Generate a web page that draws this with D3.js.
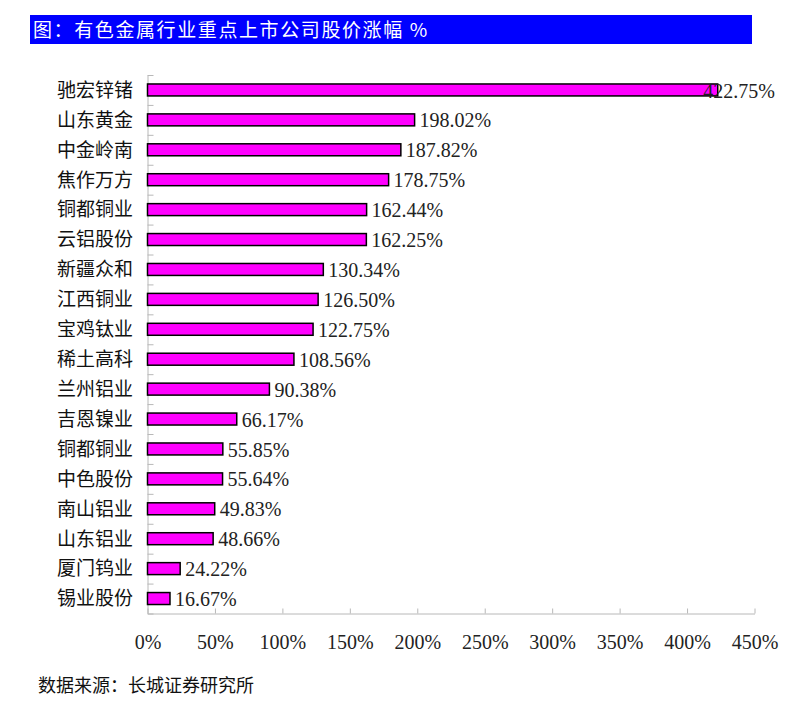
<!DOCTYPE html>
<html>
<head>
<meta charset="utf-8">
<script src="https://cdn.jsdelivr.net/npm/d3@7/dist/d3.min.js"></script>
<style>
	body { margin: 0; background: #fff; }
	svg { display: block; }
	.axis path, .axis line { stroke: #b8b8b8; stroke-width: 1; }
	.axis text { font-family: "Liberation Serif", serif; font-size: 20px; fill: #222; }
</style>
</head>
<body>
<svg id="chart"></svg>
<script>
var categories = ['驰宏锌锗', '山东黄金', '中金岭南', '焦作万方', '铜都铜业', '云铝股份',
	'新疆众和', '江西铜业', '宝鸡钛业', '稀土高科', '兰州铝业', '吉恩镍业',
	'铜都铜业', '中色股份', '南山铝业', '山东铝业', '厦门钨业', '锡业股份'];
var values = [422.75, 198.02, 187.82, 178.75, 162.44, 162.25,
	130.34, 126.50, 122.75, 108.56, 90.38, 66.17,
	55.85, 55.64, 49.83, 48.66, 24.22, 16.67];
var xTicks = [0, 50, 100, 150, 200, 250, 300, 350, 400, 450];
var title = '图：有色金属行业重点上市公司股价涨幅 %';
var source = '数据来源：长城证券研究所';

var width = 804;
var height = 710;
var plotLeft = 147.5;
var plotRight = 754.5;
var plotTop = 75;
var plotBottom = 613.5;
var labelLimit = 775;

var svg = d3.select('#chart')
	.attr('width', width)
	.attr('height', height);

svg.append('rect')
	.attr('width', width)
	.attr('height', height)
	.attr('fill', '#fff');

// title banner
svg.append('rect')
	.attr('x', 30)
	.attr('y', 15)
	.attr('width', 722)
	.attr('height', 29)
	.attr('fill', '#0000ff');
svg.append('text')
	.text(title)
	.attr('x', 33)
	.attr('y', 37)
	.style('font-family', '"Noto Sans CJK SC", sans-serif')
	.style('font-size', '19px')
	.style('letter-spacing', '1.6px')
	.style('fill', '#fff');

var xScale = d3.scaleLinear()
	.domain([0, 450])
	.range([plotLeft, plotRight]);

var yScale = d3.scaleBand()
	.domain(d3.range(categories.length))
	.range([plotTop, plotBottom])
	.paddingInner(0.6)
	.paddingOuter(0.3);

var yEdge = d3.scaleLinear()
	.domain([0, categories.length])
	.range([plotTop, plotBottom]);

var xAxis = d3.axisBottom()
	.scale(xScale)
	.tickValues(xTicks)
	.tickSizeInner(-5)
	.tickSizeOuter(0)
	.tickPadding(21)
	.tickFormat(d => d + '%');

svg.append('g')
	.attr('class', 'axis x-axis')
	.attr('transform', `translate(0, ${plotBottom})`)
	.call(xAxis);

var yAxis = d3.axisLeft()
	.scale(yEdge)
	.tickValues(d3.range(categories.length + 1))
	.tickSizeInner(-6)
	.tickSizeOuter(0)
	.tickFormat('');

svg.append('g')
	.attr('class', 'axis y-axis')
	.attr('transform', `translate(${plotLeft}, 0)`)
	.call(yAxis);

svg.selectAll('.cat')
	.data(categories)
	.enter()
	.append('text')
	.attr('class', 'cat')
	.text(d => d)
	.attr('x', 133)
	.attr('y', (d, i) => yScale(i) + yScale.bandwidth() / 2)
	.attr('dy', '0.36em')
	.style('text-anchor', 'end')
	.style('font-family', '"Noto Sans CJK SC", sans-serif')
	.style('font-size', '19px')
	.style('fill', '#111');

svg.selectAll('.bar')
	.data(values)
	.enter()
	.append('rect')
	.attr('class', 'bar')
	.attr('x', xScale(0))
	.attr('y', (d, i) => yScale(i))
	.attr('width', d => xScale(d) - xScale(0))
	.attr('height', yScale.bandwidth())
	.attr('fill', '#ff00ff')
	.attr('stroke', '#000')
	.attr('stroke-width', 1.5);

var labels = svg.selectAll('.val')
	.data(values)
	.enter()
	.append('text')
	.attr('class', 'val')
	.text(d => d.toFixed(2) + '%')
	.attr('y', (d, i) => yScale(i) + yScale.bandwidth() / 2)
	.attr('dy', '0.38em')
	.style('font-family', '"Liberation Serif", serif')
	.style('font-size', '20px')
	.style('fill', '#222');

labels.each(function(d) {
	var w = this.getComputedTextLength();
	var x = xScale(d) + 5;
	if(x + w > labelLimit) x = labelLimit - w;
	d3.select(this).attr('x', x);
});

svg.append('text')
	.text(source)
	.attr('x', 38)
	.attr('y', 692)
	.style('font-family', '"Noto Sans CJK SC", sans-serif')
	.style('font-size', '18px')
	.style('fill', '#111');
</script>
</body>
</html>
